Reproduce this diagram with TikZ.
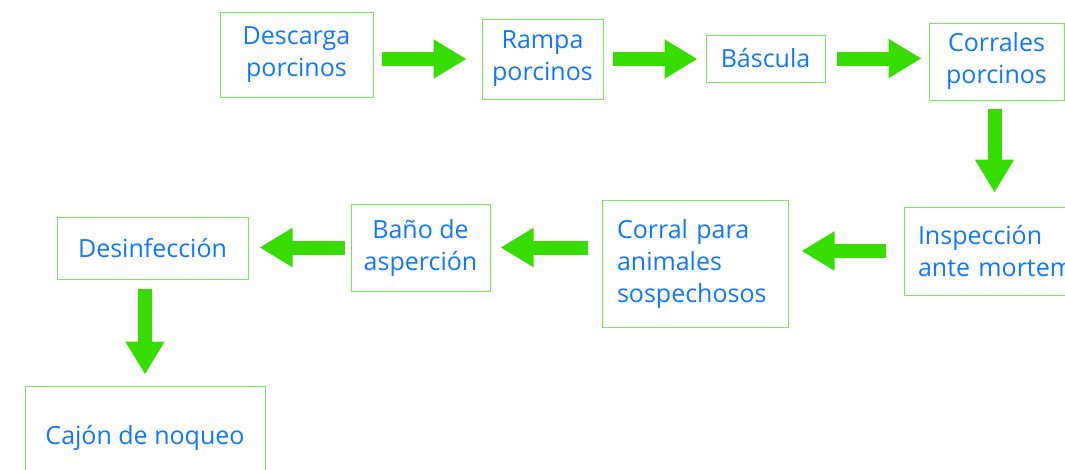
\documentclass[tikz,border=0pt]{standalone}
\usepackage{fontspec}
\setmainfont{Open Sans}
\usetikzlibrary{arrows.meta}
\definecolor{txtblue}{RGB}{17,119,255}
\definecolor{boxgreen}{RGB}{120,235,90}
\definecolor{arrgreen}{RGB}{55,221,0}
\begin{document}
\begin{tikzpicture}[x=1pt,y=-1pt,
  box/.style={draw=boxgreen, line width=1pt, text=txtblue, inner sep=0pt, align=center,
    font=\fontsize{25}{32}\selectfont},
  lbox/.style={box, align=left},
  barrow/.style={draw=arrgreen, line width=14pt, -{Triangle[length=33pt,width=37pt]}}]
\useasboundingbox (0,0) rectangle (1065,469);
\fill[white] (0,0) rectangle (1065,469);
\clip (0,0) rectangle (1065,469);
% top row
\node[box, minimum width=153, minimum height=85] (desc) at (296.5,54.5) {Descarga\\porcinos};
\node[box, minimum width=121, minimum height=80] (rampa) at (542.5,59) {Rampa\\porcinos};
\node[box, minimum width=119, minimum height=47] (bascula) at (765.5,58.5) {Báscula};
\node[box, minimum width=135, minimum height=77] (corrales) at (996.5,61.5) {Corrales\\porcinos};
% middle row
\node[lbox, minimum width=191, minimum height=88, inner xsep=14pt, text width=163pt] (insp) at (999.5,251) {Inspección\\ante mortem};
\node[lbox, minimum width=186, minimum height=127, inner xsep=15pt, text width=156pt] (corral) at (695,264) {Corral para\\animales\\sospechosos};
\node[box, minimum width=139, minimum height=87] (bano) at (420.5,247.5) {Baño de\\asperción};
\node[box, minimum width=191, minimum height=62] (desinf) at (152.5,248) {Desinfección};
% bottom
\node[box, minimum width=240, minimum height=104] (cajon) at (145,438) {Cajón de noqueo};
% arrows
\draw[barrow] ([xshift=8pt]desc.east |- rampa.west) -- ([xshift=-15pt]rampa.west);
\draw[barrow] ([xshift=9pt]rampa.east) -- ([xshift=-8pt]bascula.west |- rampa.east);
\draw[barrow] ([xshift=11pt]bascula.east) -- ([xshift=-7pt]corrales.west |- bascula.east);
\draw[barrow] ([xshift=-2pt,yshift=-8pt]corrales.south) -- ([xshift=-2pt,yshift=14pt]insp.north -| corrales.south);
\draw[barrow] ([xshift=-18pt]insp.west) -- ([xshift=13pt]corral.east |- insp.west);
\draw[barrow] ([xshift=-14pt]corral.west |- bano.east) -- ([xshift=10pt]bano.east);
\draw[barrow] ([xshift=-6pt]bano.west) -- ([xshift=11pt]desinf.east |- bano.west);
\draw[barrow] ([yshift=-9pt]desinf.south -| cajon.north) -- ([yshift=11pt]cajon.north);
\end{tikzpicture}
\end{document}
